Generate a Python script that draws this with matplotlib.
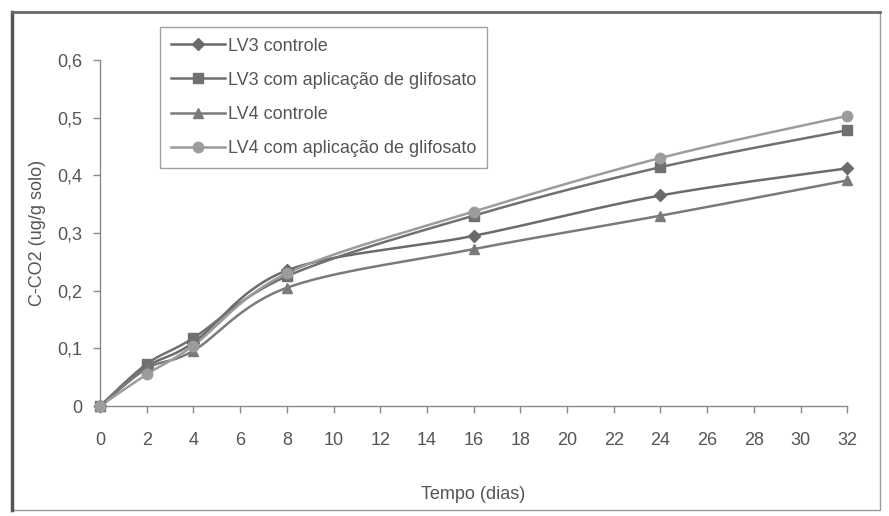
import numpy as np
import matplotlib
matplotlib.use("Agg")
import matplotlib.pyplot as plt
from matplotlib.lines import Line2D
from matplotlib.patches import Rectangle
from matplotlib.ticker import FuncFormatter, MultipleLocator

# days of incubation
dias = [0, 2, 4, 8, 16, 24, 32]

# C-CO2 (ug/g solo)
lv3_controle = [0.0, 0.068, 0.110, 0.235, 0.295, 0.365, 0.412]
lv3_glifosato = [0.0, 0.073, 0.118, 0.225, 0.330, 0.414, 0.478]
lv4_controle = [0.0, 0.065, 0.096, 0.205, 0.272, 0.330, 0.391]
lv4_glifosato = [0.0, 0.055, 0.105, 0.230, 0.337, 0.430, 0.503]

labels = ["LV3 controle", "LV3 com aplicação de glifosato",
          "LV4 controle", "LV4 com aplicação de glifosato"]
series = [lv3_controle, lv3_glifosato, lv4_controle, lv4_glifosato]
markers = ["D", "s", "^", "o"]
msizes = [6.5, 7, 7.5, 7.5]
colors = ["#6b6b6b", "#707070", "#7a7a7a", "#9c9c9c"]

plt.rcParams["font.family"] = ["Liberation Sans", "DejaVu Sans"]


def smooth(x, y, n=30):
    # excel-like smoothed line: bezier segments with catmull-rom control points
    p = np.column_stack([x, y]).astype(float)
    p = np.vstack([p[0], p, p[-1]])
    out = []
    for i in range(1, len(p) - 2):
        p0, p1, p2, p3 = p[i - 1], p[i], p[i + 1], p[i + 2]
        c1 = p1 + (p2 - p0) / 6.0
        c2 = p2 - (p3 - p1) / 6.0
        t = np.linspace(0, 1, n)[:, None]
        seg = ((1 - t) ** 3) * p1 + 3 * ((1 - t) ** 2) * t * c1 + 3 * (1 - t) * t ** 2 * c2 + t ** 3 * p2
        out.append(seg)
    out = np.vstack(out)
    return out[:, 0], out[:, 1]


fig = plt.figure(figsize=(8.89, 5.16), dpi=100)
ax = fig.add_axes([0.1125, 0.213, 0.8405, 0.671])

handles = []
for vals, lab, m, ms, c in zip(series, labels, markers, msizes, colors):
    sx, sy = smooth(dias, vals)
    ax.plot(sx, sy, color=c, lw=1.8, solid_capstyle="round", zorder=2)
    ax.plot(dias, vals, linestyle="none", marker=m, markersize=ms,
            color=c, markeredgecolor=c, zorder=3, clip_on=False)
    handles.append(Line2D([], [], color=c, lw=1.8, marker=m, markersize=ms,
                          markeredgecolor=c))

ax.set_xlim(0, 32)
ax.set_ylim(0, 0.6)
ax.xaxis.set_major_locator(MultipleLocator(2))
ax.yaxis.set_major_locator(MultipleLocator(0.1))
ax.yaxis.set_major_formatter(FuncFormatter(
    lambda v, p: "0" if abs(v) < 1e-9 else f"{v:.1f}".replace(".", ",")))

for s in ["top", "right"]:
    ax.spines[s].set_visible(False)
for s in ["left", "bottom"]:
    ax.spines[s].set_color("#8a8a8a")
    ax.spines[s].set_linewidth(1.0)
ax.tick_params(colors="#8a8a8a", labelcolor="#555555", labelsize=13,
               length=5, width=1.0, direction="out")
ax.tick_params(axis="x", pad=14)
ax.tick_params(axis="y", pad=8)

ax.set_xlabel("Tempo (dias)", fontsize=13, color="#555555", labelpad=26)
ax.set_ylabel("C-CO2 (ug/g solo)", fontsize=13, color="#555555", labelpad=8)

leg = fig.legend(handles, labels, loc="upper left",
                 bbox_to_anchor=(0.18, 0.948), fontsize=13,
                 frameon=True, fancybox=False, handlelength=3.0,
                 handletextpad=0.15, labelspacing=0.95, borderpad=0.6,
                 borderaxespad=0)
leg.get_frame().set_edgecolor("#8a8a8a")
leg.get_frame().set_linewidth(1.0)
for txt in leg.get_texts():
    txt.set_color("#555555")

# scanned page frame
fig.add_artist(Rectangle((0.013, 0.012), 0.977, 0.965, transform=fig.transFigure,
                         fill=False, edgecolor="#9a9a9a", lw=1.0))
fig.add_artist(Line2D([0.013, 0.013], [0.012, 0.977], transform=fig.transFigure,
                      color="#555555", lw=2.5))
fig.add_artist(Line2D([0.013, 0.99], [0.977, 0.977], transform=fig.transFigure,
                      color="#6a6a6a", lw=2.0))

fig.savefig("out.png", dpi=100)
